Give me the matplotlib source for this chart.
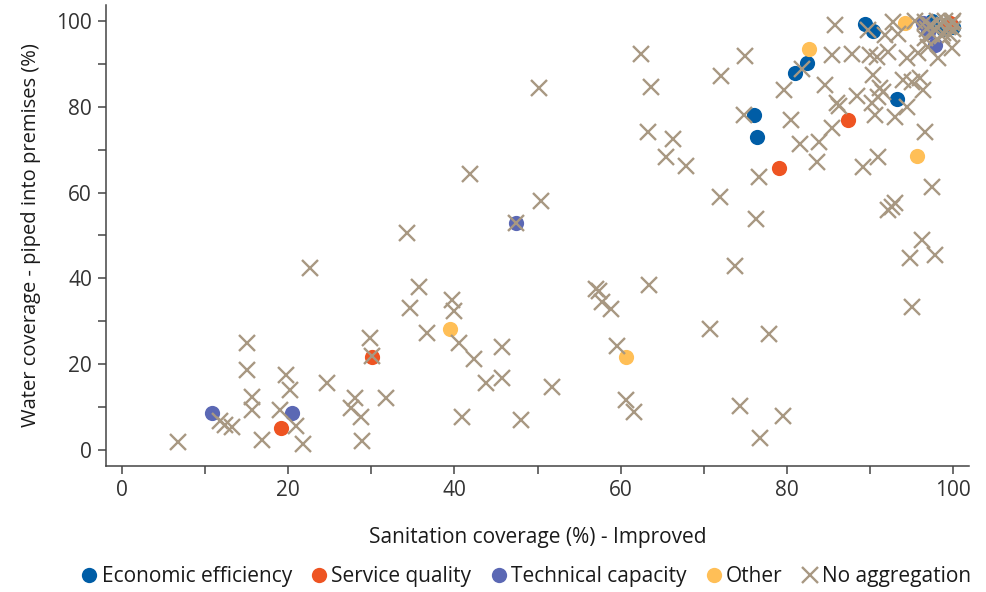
import matplotlib
matplotlib.use("Agg")
import matplotlib.pyplot as plt
from matplotlib.ticker import MultipleLocator
from matplotlib.lines import Line2D

# Economic efficiency
econ_x = [76.0, 76.4, 81.0, 82.4, 89.4, 90.4, 93.2, 97.5, 99.5, 100.0, 98.8]
econ_y = [78.1, 73.0, 87.9, 90.2, 99.3, 97.7, 81.9, 100.0, 99.5, 98.5, 98.0]

# Service quality
serv_x = [19.2, 30.1, 79.0, 87.4, 99.6]
serv_y = [5.1, 21.7, 65.7, 76.9, 99.6]

# Technical capacity
tech_x = [10.9, 20.5, 47.4, 96.4, 97.8, 97.0]
tech_y = [8.6, 8.6, 52.9, 99.5, 94.3, 97.5]

# Other
other_x = [39.5, 60.7, 82.6, 95.7, 94.2]
other_y = [28.2, 21.7, 93.5, 68.5, 99.5]

# No aggregation
noagg_x = [6.7, 15.0, 15.0, 15.7, 15.7, 11.8, 12.4, 13.3, 16.9, 19.8, 20.2, 19.0, 21.0, 21.8,
           22.6, 24.7, 28.0, 27.6, 28.8, 28.9, 29.8, 30.1, 31.8, 34.3, 34.7, 35.8, 36.7, 39.7,
           40.0, 40.6, 40.9, 41.9, 42.4, 43.8, 45.7, 45.7, 47.4, 48.0, 50.2, 50.4, 51.7,
           57.0, 57.4, 57.7, 58.8, 63.4, 59.5, 60.6, 61.6, 62.4, 63.7, 63.3, 66.3, 65.5, 67.8,
           70.8, 72.0, 72.1, 73.8, 74.4, 74.9, 74.8, 76.6, 76.3, 76.8, 77.9, 79.5, 79.6, 80.5,
           81.6, 81.8, 83.8, 83.6, 84.6, 85.4, 85.4, 85.8, 86.2, 86.0, 87.8, 88.4, 89.2, 89.8,
           90.0, 90.8, 90.4, 90.2, 90.6, 91.0, 91.2, 91.6, 91.0, 91.8, 92.2, 92.8, 93.0, 93.4,
           92.6, 93.0, 92.2, 94.4, 94.0, 94.8, 95.0, 95.0, 95.4, 95.8, 96.0, 96.4, 96.2, 96.6,
           96.6, 96.6, 97.0, 97.4, 97.8, 98.2, 99.8, 97.2, 97.8, 98.0, 98.4, 98.8, 99.0, 99.4,
           99.8, 100.0, 100.0, 98.6, 99.6, 97.4, 96.8, 94.4]
noagg_y = [1.9, 25.0, 18.6, 12.4, 9.3, 6.8, 5.8, 5.4, 2.3, 17.5, 14.0, 9.3, 5.6, 1.4,
           42.4, 15.6, 12.1, 9.8, 7.7, 2.1, 26.1, 22.0, 12.1, 50.6, 33.1, 38.0, 27.3, 35.0,
           32.4, 24.9, 7.7, 64.3, 21.2, 15.6, 24.0, 16.8, 52.9, 7.0, 84.4, 58.0, 14.7,
           37.5, 37.0, 34.5, 32.9, 38.5, 24.2, 11.7, 8.9, 92.3, 84.6, 74.1, 72.5, 68.3, 66.2,
           28.2, 59.0, 87.2, 42.8, 10.3, 91.8, 78.1, 63.6, 53.8, 2.8, 27.0, 7.9, 83.9, 77.0,
           71.3, 88.8, 71.8, 67.1, 85.1, 75.0, 92.1, 99.1, 80.2, 80.9, 92.3, 82.5, 66.0, 97.9,
           92.0, 91.6, 87.4, 80.9, 78.0, 68.3, 84.4, 83.5, 82.3, 96.7, 92.8, 99.8, 77.5, 97.0,
           56.6, 57.5, 55.9, 91.4, 86.2, 44.7, 85.8, 33.3, 100.0, 92.5, 86.7, 84.0, 49.0, 74.1,
           96.0, 99.8, 94.0, 61.3, 45.5, 91.4, 93.7, 99.0, 98.0, 100.0, 99.2, 97.2, 100.0, 98.6,
           99.4, 100.0, 98.2, 96.4, 96.8, 97.0, 98.2, 80.0]

c_econ = "#005da6"
c_serv = "#ee5422"
c_tech = "#5b68b4"
c_other = "#ffbf57"
c_noagg = "#a89882"

plt.rcParams["font.family"] = ["Open Sans", "DejaVu Sans"]

fig = plt.figure(figsize=(9.87, 5.92), dpi=100)
ax = fig.add_axes([0.1074, 0.2128, 0.8744, 0.7788])

ax.scatter(econ_x, econ_y, s=120, color=c_econ, linewidths=0, zorder=2)
ax.scatter(serv_x, serv_y, s=120, color=c_serv, linewidths=0, zorder=2)
ax.scatter(tech_x, tech_y, s=120, color=c_tech, linewidths=0, zorder=2)
ax.scatter(other_x, other_y, s=120, color=c_other, linewidths=0, zorder=2)
ax.plot(noagg_x, noagg_y, linestyle="none", marker="x", markersize=11.5,
        markeredgewidth=1.7, color=c_noagg, zorder=3)

ax.set_xlim(-1.9, 101.9)
ax.set_ylim(-3.7, 103.7)
ax.xaxis.set_major_locator(MultipleLocator(20))
ax.xaxis.set_minor_locator(MultipleLocator(10))
ax.yaxis.set_major_locator(MultipleLocator(20))
ax.yaxis.set_minor_locator(MultipleLocator(10))

for s in ["top", "right"]:
    ax.spines[s].set_visible(False)
for s in ["left", "bottom"]:
    ax.spines[s].set_color("#444444")
    ax.spines[s].set_linewidth(1.1)

ax.tick_params(which="both", color="#444444", width=1.1, labelcolor="#333333")
ax.tick_params(which="major", length=6, labelsize=15, pad=4)
ax.tick_params(which="minor", length=6)

ax.set_xlabel("Sanitation coverage (%) - Improved", fontsize=15, fontweight="medium",
              color="#1a1a1a", labelpad=19)
ax.set_ylabel("Water coverage - piped into premises (%)", fontsize=14.5, fontweight="medium",
              color="#1a1a1a", labelpad=11)

handles = [
    Line2D([], [], linestyle="none", marker="o", markersize=11, color=c_econ, markeredgewidth=0),
    Line2D([], [], linestyle="none", marker="o", markersize=11, color=c_serv, markeredgewidth=0),
    Line2D([], [], linestyle="none", marker="o", markersize=11, color=c_tech, markeredgewidth=0),
    Line2D([], [], linestyle="none", marker="o", markersize=11, color=c_other, markeredgewidth=0),
    Line2D([], [], linestyle="none", marker="x", markersize=12, color=c_noagg, markeredgewidth=1.7),
]
labels = ["Economic efficiency", "Service quality", "Technical capacity", "Other", "No aggregation"]
fig.legend(handles, labels, loc="center", bbox_to_anchor=(0.532, 0.026), ncol=5, frameon=False,
           fontsize=15, handletextpad=0.1, columnspacing=0.8, handlelength=1.0,
           labelcolor="#1a1a1a")

fig.savefig("out.png", dpi=100)
